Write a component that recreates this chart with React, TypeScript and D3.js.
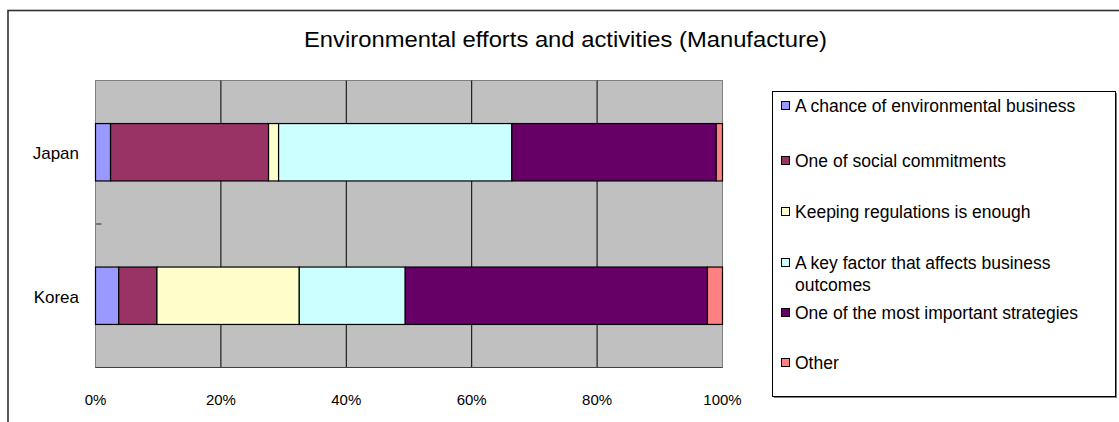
import React from 'react';
import * as d3 from 'd3';

const title = 'Environmental efforts and activities (Manufacture)';
const countries = ['Japan', 'Korea'];
const seriesNames = [
  'A chance of environmental business',
  'One of social commitments',
  'Keeping regulations is enough',
  'A key factor that affects business outcomes',
  'One of the most important strategies',
  'Other',
];
const seriesColors = ['#9999FF', '#993366', '#FFFFCC', '#CCFFFF', '#660066', '#FF8080'];
// percent values per series, [Japan, Korea]
const chanceValues = [2.4, 3.7];
const socialValues = [25.2, 6.1];
const regulationValues = [1.6, 22.7];
const keyFactorValues = [37.2, 16.9];
const strategyValues = [32.6, 48.2];
const otherValues = [1.0, 2.4];
const xTicks = [0, 20, 40, 60, 80, 100];

const seriesValues = [chanceValues, socialValues, regulationValues, keyFactorValues, strategyValues, otherValues];

const font = '"Liberation Sans", Arial, sans-serif';

export default function App() {
  const width = 1119;
  const height = 422;
  const plot = { left: 95.5, right: 722.5, top: 80.5, bottom: 367.5 };

  const rows = countries.map((c, i) => {
    const r: any = { country: c };
    seriesNames.forEach((s, j) => { r[s] = seriesValues[j][i]; });
    return r;
  });
  const stack = d3.stack<any>().keys(seriesNames)(rows);

  const x = d3.scaleLinear().domain([0, 100]).range([plot.left, plot.right]);
  const y = d3.scaleBand().domain(countries).range([plot.top, plot.bottom]).paddingInner(0.6).paddingOuter(0.3);
  const yCat = d3.scaleBand().domain(countries).range([plot.top, plot.bottom]);

  const legend = { x: 772.5, y: 91.5, w: 343, h: 305 };
  const legendItemY = [106, 161, 212, 263, 313, 363];

  return (
    <svg width={width} height={height} style={{ position: 'absolute', left: 0, top: 0, background: '#fff' }}>
      {/* chart border */}
      <rect x={8} y={10.5} width={width + 10} height={height + 10} fill="#fff" stroke="#303030" strokeWidth={1.6} />
      <text x={304} y={47} fontFamily={font} fontSize={22.5} textLength={523} lengthAdjust="spacingAndGlyphs" fill="#000">{title}</text>

      {/* plot area */}
      <rect x={plot.left} y={plot.top} width={plot.right - plot.left} height={plot.bottom - plot.top} fill="#C0C0C0" stroke="#808080" />
      {xTicks.slice(1, -1).map(t => (
        <line key={t} x1={x(t)} x2={x(t)} y1={plot.top} y2={plot.bottom} stroke="#000" />
      ))}
      {/* category separator tick */}
      <line x1={plot.left} x2={plot.left + 6} y1={yCat('Korea')!} y2={yCat('Korea')!} stroke="#606060" strokeWidth={1.5} />
      <line x1={plot.left} x2={plot.right} y1={plot.bottom} y2={plot.bottom} stroke="#404040" />

      {stack.map((layer, j) => (
        <g key={layer.key} fill={seriesColors[j]} stroke="#000" strokeWidth={1.2}>
          {layer.map((d: any, i: number) => (
            <rect key={i} x={x(d[0])} y={y(countries[i])!} width={x(d[1]) - x(d[0])} height={y.bandwidth()} />
          ))}
        </g>
      ))}

      {countries.map(c => (
        <text key={c} x={79} y={yCat(c)! + yCat.bandwidth() / 2 + 1} dy="0.35em" textAnchor="end" fontFamily={font} fontSize={17} fill="#000">{c}</text>
      ))}
      {xTicks.map(t => (
        <text key={t} x={x(t)} y={405} textAnchor="middle" fontFamily={font} fontSize={15} fill="#000">{t}%</text>
      ))}

      {/* legend */}
      <rect x={legend.x + 1.5} y={legend.y + 1.5} width={legend.w} height={legend.h} fill="#808080" />
      <rect x={legend.x} y={legend.y} width={legend.w} height={legend.h} fill="#fff" stroke="#000" />
      {seriesNames.map((s, j) => {
        const cy = legendItemY[j];
        const lines = j === 3 ? ['A key factor that affects business', 'outcomes'] : [s];
        return (
          <g key={s}>
            <rect x={781.5} y={cy - 4.5} width={8} height={8} fill={seriesColors[j]} stroke="#000" />
            {lines.map((l, k) => (
              <text key={k} x={795} y={cy + k * 22} dy="0.35em" fontFamily={font} fontSize={17.5} fill="#000">{l}</text>
            ))}
          </g>
        );
      })}
    </svg>
  );
}
